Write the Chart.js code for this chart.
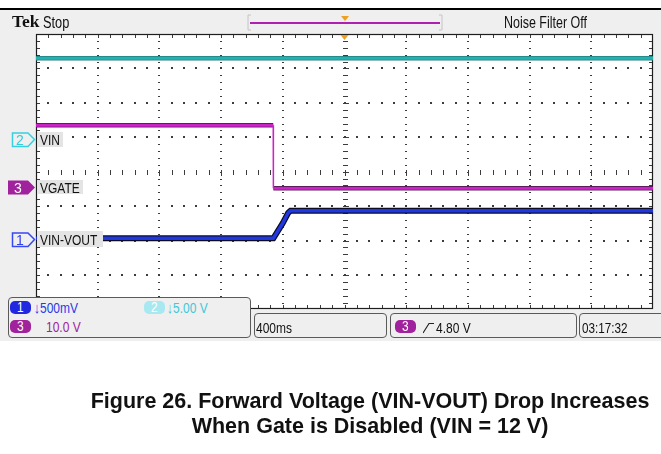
<!DOCTYPE html>
<html><head><meta charset="utf-8">
<script src="https://cdn.jsdelivr.net/npm/chart.js@4/dist/chart.umd.min.js"></script>
<style>
html,body{margin:0;padding:0;background:#fff;width:661px;height:454px;overflow:hidden;position:relative}
.abs{position:absolute}
#topline{left:0;top:8px;width:661px;height:2px;background:#000}
#panel{left:0;top:10px;width:661px;height:331px;background:#efefef}
#cv{position:absolute;left:0;top:0}
.sc{position:absolute;font-family:"Liberation Sans",Arial,sans-serif;font-size:15px;line-height:15px;white-space:nowrap;color:#111;transform:scaleX(0.8);transform-origin:left top}
.box{position:absolute;border:1.5px solid #5a5a5a;border-radius:4px;background:#efefef;box-sizing:border-box}
.badge{position:absolute;border-radius:5px;height:13px}
.bt{position:absolute;color:#fff;font-family:"Liberation Sans",Arial,sans-serif;font-size:14px;line-height:13px;transform:scaleX(0.85);transform-origin:left top}
.lbl{position:absolute;background:#e4e4e4}
.cap{position:absolute;left:0;width:740px;text-align:center;font-family:"Liberation Sans",Arial,sans-serif;font-weight:bold;font-size:21.5px;line-height:25px;color:#111;white-space:nowrap}
</style></head>
<body>
<div id="topline" class="abs"></div>
<div id="panel" class="abs"></div>
<canvas id="cv" width="661" height="454"></canvas>

<!-- header -->
<div class="abs" style="left:12px;top:13px;font-family:'Liberation Serif',serif;font-weight:bold;font-size:17.5px;line-height:17px;color:#111">Tek</div>
<div class="sc" style="left:43px;top:15px;font-size:16px;line-height:16px">Stop</div>
<svg class="abs" style="left:246px;top:12px" width="198" height="20">
  <path d="M5 3 H2 V18 H5 M193 3 H196 V18 H193" fill="none" stroke="#c4c4c4" stroke-width="1"/>
  <rect x="4" y="10" width="190" height="2" fill="#b020b0"/>
  <polygon points="95,4 103,4 99,9" fill="#f0a020"/>
</svg>
<div class="sc" style="left:504px;top:15px;font-size:16px;line-height:16px;transform:scaleX(0.78)">Noise Filter Off</div>

<!-- channel ground markers -->
<svg class="abs" style="left:11px;top:132px" width="26" height="16">
  <polygon points="1.5,1 17,1 23.5,7.5 17,14.5 1.5,14.5" fill="#efefef" stroke="#38d0e0" stroke-width="1.5"/>
  <text x="9" y="12.5" font-family="Liberation Sans,sans-serif" font-size="14" fill="#38c8d8" text-anchor="middle">2</text>
</svg>
<svg class="abs" style="left:8px;top:180px" width="28" height="16">
  <polygon points="0,0.5 20,0.5 27,7.5 20,14.5 0,14.5" fill="#a0229c"/>
  <text x="10" y="12.5" font-family="Liberation Sans,sans-serif" font-size="14" fill="#fff" text-anchor="middle">3</text>
</svg>
<svg class="abs" style="left:11px;top:232px" width="26" height="16">
  <polygon points="1.5,1 17,1 23.5,7.5 17,14.5 1.5,14.5" fill="#efefef" stroke="#3848f0" stroke-width="1.5"/>
  <text x="9" y="12.5" font-family="Liberation Sans,sans-serif" font-size="14" fill="#3040f0" text-anchor="middle">1</text>
</svg>

<!-- trace labels inside graticule -->
<div class="lbl" style="left:37px;top:132px;width:26px;height:15px"></div>
<div class="sc" style="left:40px;top:132px">VIN</div>
<div class="lbl" style="left:37px;top:180px;width:46px;height:14px"></div>
<div class="sc" style="left:40px;top:179.5px">VGATE</div>
<div class="lbl" style="left:37px;top:231px;width:66px;height:16px"></div>
<div class="sc" style="left:40px;top:231.5px">VIN-VOUT</div>

<!-- status boxes -->
<div class="box" style="left:8px;top:297px;width:243px;height:41px"></div>
<div class="badge" style="left:10px;top:301px;width:21px;background:#2228e0"></div><div class="bt" style="left:17px;top:301px">1</div>
<div class="sc" style="left:34px;top:300px;color:#2838e8">↓500mV</div>
<div class="badge" style="left:144px;top:301px;width:21px;background:#a8e8f0"></div><div class="bt" style="left:151px;top:301px">2</div>
<div class="sc" style="left:167px;top:300px;color:#40c8d8">↓5.00 V</div>
<div class="badge" style="left:10px;top:320px;width:21px;background:#a0229c"></div><div class="bt" style="left:17px;top:320px">3</div>
<div class="sc" style="left:46px;top:319px;color:#a0229c">10.0 V</div>

<div class="box" style="left:254px;top:313px;width:133px;height:25px"></div>
<div class="sc" style="left:256px;top:320px">400ms</div>
<div class="box" style="left:390px;top:313px;width:187px;height:25px"></div>
<div class="badge" style="left:395px;top:320px;width:21px;background:#a0229c"></div><div class="bt" style="left:402px;top:320px">3</div>
<svg class="abs" style="left:423px;top:322px" width="12" height="12"><polyline points="0,11 6,1.5 11,1.5" fill="none" stroke="#222" stroke-width="1.2"/></svg>
<div class="sc" style="left:436px;top:320px">4.80 V</div>
<div class="box" style="left:579px;top:313px;width:90px;height:25px"></div>
<div class="sc" style="left:582px;top:320px;transform:scaleX(0.78)">03:17:32</div>

<!-- caption -->
<div class="cap" style="top:389px">Figure 26. Forward Voltage (VIN-VOUT) Drop Increases</div>
<div class="cap" style="top:414px">When Gate is Disabled (VIN = 12 V)</div>

<script>
// ---- data (read from the scope capture) ----
const timebaseSecPerDiv = 0.4;           // 400 ms/div, trigger at centre
const vinTimeS   = [-2.0, 2.0];
const vinVolts   = [11.8, 11.8];
const vgateTimeS = [-2.0, -0.462, -0.461, 2.0];
const vgateVolts = [18.1, 18.1, -0.2, -0.2];
const dropTimeS  = [-2.0, -0.461, -0.40, -0.365, -0.35, 2.0];
const dropVolts  = [0.02, 0.02, 0.24, 0.39, 0.42, 0.42];

// channel vertical settings: volts/div and ground-marker position (divisions from centre)
const ch1 = {vPerDiv: 0.5, offsetDiv: -1.974};
const ch2 = {vPerDiv: 5.0, offsetDiv: 0.933};
const ch3 = {vPerDiv: 10.0, offsetDiv: -0.462};

function toPts(ts, vs, ch){ return ts.map((t,i)=>({x:t, y: ch.offsetDiv + vs[i]/ch.vPerDiv})); }
const isVert = c => Math.abs(c.p0.parsed.x - c.p1.parsed.x) < 0.01;

const graticule = {
  id:'graticule',
  beforeDatasetsDraw(chart){
    const {ctx, chartArea:a, scales:{x,y}} = chart;
    ctx.save();
    ctx.fillStyle='#fff';
    ctx.fillRect(a.left,a.top,a.right-a.left,a.bottom-a.top);
    const xs=[], ys=[];
    for(let i=0;i<=50;i++) xs.push(Math.round(x.getPixelForValue(-5*timebaseSecPerDiv + i*timebaseSecPerDiv/5)));
    for(let j=0;j<=40;j++) ys.push(Math.round(y.getPixelForValue(-4 + j*0.2)));
    ctx.fillStyle='#3c3c3c';
    for(let j=5;j<40;j+=5){ if(j===20) continue;
      for(let i=1;i<50;i++) ctx.fillRect(xs[i]-1, ys[j]-1, 2, 2); }
    for(let i=5;i<50;i+=5){ if(i===25) continue;
      for(let j=1;j<40;j++) ctx.fillRect(xs[i]-1, ys[j], 2, 1); }
    for(let i=1;i<50;i++) ctx.fillRect(xs[i], ys[20]-2, 1, (i%5===0)?6:5);
    for(let j=1;j<40;j++) ctx.fillRect(xs[25]-2, ys[j], (j%5===0)?6:5, 1);
    for(let i=1;i<50;i++){ ctx.fillRect(xs[i], ys[40], 1, 4); ctx.fillRect(xs[i], ys[0]-4, 1, 4); }
    for(let j=1;j<40;j++){ ctx.fillRect(xs[0], ys[j], 4, 1); ctx.fillRect(xs[50]-4, ys[j], 4, 1); }
    ctx.strokeStyle='#1e1e1e'; ctx.lineWidth=1.2;
    ctx.strokeRect(xs[0]+0.5, ys[40]+0.5, xs[50]-xs[0]-1, ys[0]-ys[40]-1);
    ctx.restore();
  },
  afterDatasetsDraw(chart){
    const {ctx, chartArea:a, scales:{x}} = chart;
    const cx = x.getPixelForValue(0);
    ctx.save(); ctx.fillStyle='#f0a020';
    ctx.beginPath(); ctx.moveTo(cx-4,a.top+1); ctx.lineTo(cx+4,a.top+1); ctx.lineTo(cx,a.top+6); ctx.closePath(); ctx.fill();
    ctx.restore();
  }
};

function trace(data, color, width, vertW, order){
  return {data, order, borderColor:color, borderWidth:width, pointRadius:0, tension:0, fill:false,
    segment:{borderWidth: c => isVert(c) ? vertW : width}};
}

new Chart(document.getElementById('cv'), {
  type:'line',
  data:{datasets:[
    trace(toPts(vinTimeS, vinVolts, ch2), '#2a7c7c', 4.5, 4.5, 2),
    trace(toPts(vinTimeS, vinVolts, ch2), '#22b2b2', 3, 3, 1),
    trace(toPts(vgateTimeS, vgateVolts, ch3), '#5a1e5a', 4.5, 0.01, 2),
    trace(toPts(vgateTimeS, vgateVolts, ch3), '#cc22c8', 2.8, 1.5, 1),
    trace(toPts(dropTimeS, dropVolts, ch1), '#0c0c22', 6, 6, 2),
    trace(toPts(dropTimeS, dropVolts, ch1), '#2038e0', 3.5, 3.5, 1)
  ]},
  options:{
    responsive:false, animation:false, devicePixelRatio:1,
    layout:{padding:{left:36, right:8, top:34, bottom:144.6}},
    plugins:{legend:{display:false}, tooltip:{enabled:false}},
    scales:{
      x:{type:'linear', min:-2, max:2, display:false},
      y:{type:'linear', min:-4, max:4, display:false}
    }
  },
  plugins:[graticule]
});
</script>
</body></html>
